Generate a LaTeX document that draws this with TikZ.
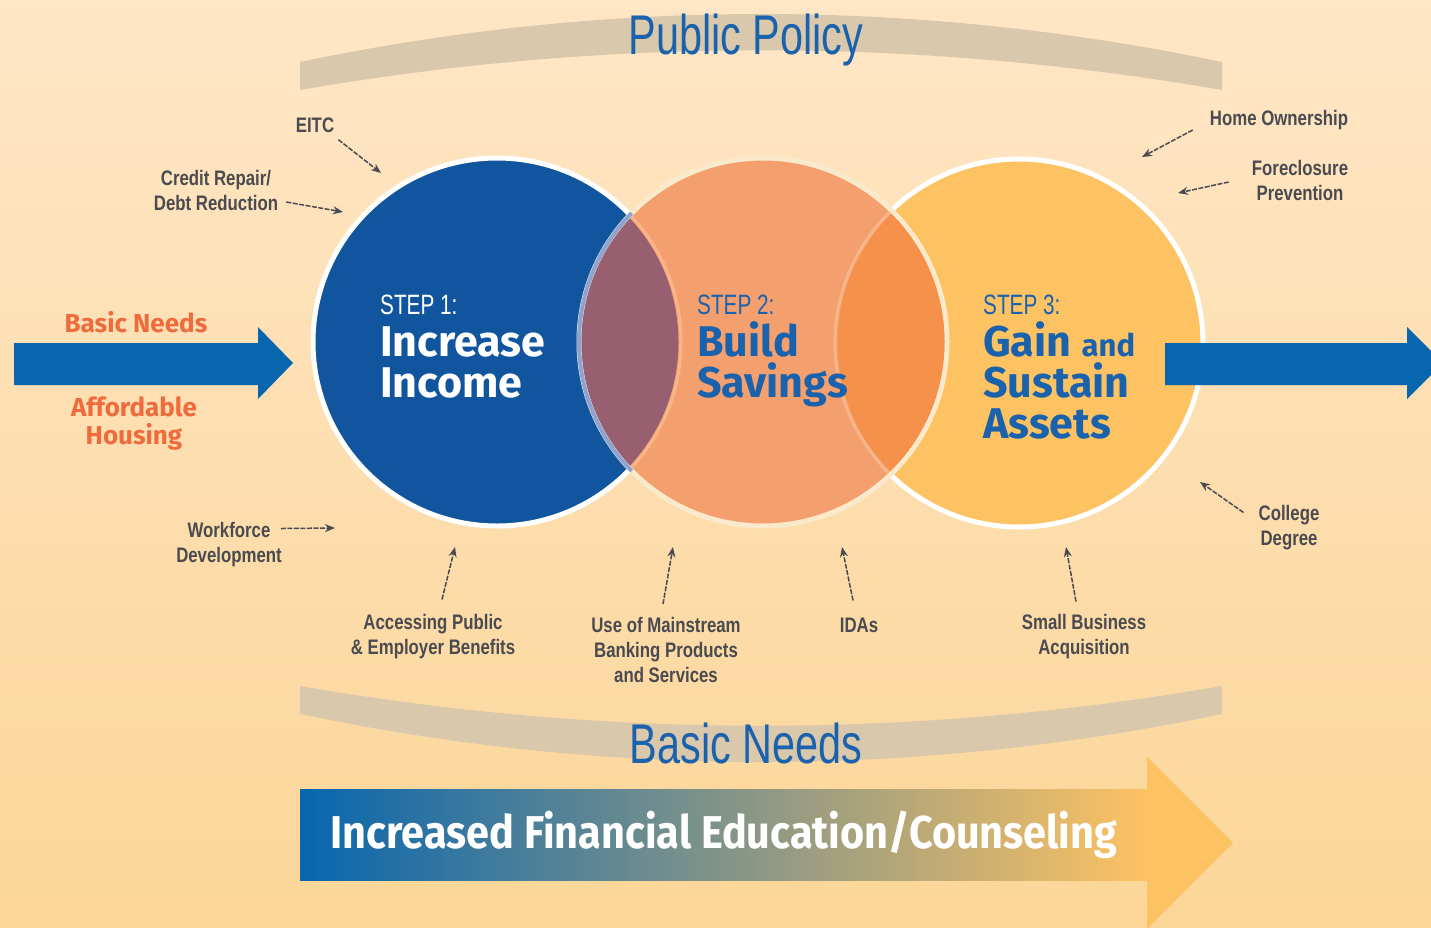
\documentclass[tikz,border=0pt]{standalone}
\usepackage{fontspec}
\setmainfont{Liberation Sans}
\newfontfamily\narrowfont[FakeStretch=0.74]{Liberation Sans}
\newfontfamily\labelfont[FakeStretch=0.80]{Liberation Sans}
\newfontfamily\headfont{Fira Sans}
\newfontfamily\barfont[FakeStretch=0.90]{Fira Sans}
\usetikzlibrary{arrows.meta,positioning}
\definecolor{bgtop}{RGB}{254,230,198}
\definecolor{bgbottom}{RGB}{252,214,152}
\definecolor{bandtan}{RGB}{218,200,172}
\definecolor{titleblue}{RGB}{27,98,173}
\definecolor{incomeblue}{RGB}{17,85,159}
\definecolor{savingsorange}{RGB}{244,160,110}
\definecolor{assetsyellow}{RGB}{253,194,98}
\definecolor{lensmauve}{RGB}{152,95,112}
\definecolor{lensorange}{RGB}{245,145,74}
\definecolor{rimblue}{RGB}{141,163,211}
\definecolor{rimorange}{RGB}{248,181,138}
\definecolor{rimcream}{RGB}{250,233,203}
\definecolor{needorange}{RGB}{239,107,59}
\definecolor{labelgray}{RGB}{74,75,80}
\definecolor{arrowblue}{RGB}{8,102,174}
\definecolor{bargray}{RGB}{135,135,152}

\begin{document}
\begin{tikzpicture}[x=1pt,y=-1pt]
\tikzstyle{stepcircle}=[circle,minimum size=368pt,inner sep=0pt,line width=5pt]
\tikzstyle{bigtitle}=[font={\narrowfont\fontsize{56}{60}\selectfont},text=titleblue,inner sep=0pt,anchor=base]
\tikzstyle{steptag}=[font={\narrowfont\fontsize{28}{30}\selectfont},inner sep=0pt,anchor=base west]
\tikzstyle{stepname}=[font={\headfont\bfseries\fontsize{43}{43}\selectfont},inner sep=0pt,anchor=base west]
\tikzstyle{needlabel}=[font={\headfont\bfseries\fontsize{26}{28}\selectfont},text=needorange,align=center,inner sep=1pt]
\tikzstyle{helplabel}=[font={\labelfont\bfseries\fontsize{21}{25}\selectfont},text=labelgray,align=center,inner sep=1pt]
\tikzstyle{pointer}=[-{Stealth[length=10pt,width=8pt]},line width=1.5pt,draw=labelgray,dash pattern=on 5pt off 1.5pt]

\useasboundingbox (0,0) rectangle (1431,927);
\shade[top color=bgtop,bottom color=bgbottom] (0,0) rectangle (1431,927);

%%%%%%%%%%%%%%%%%%%%%%%%%%%%%%%%%%%%%%%%%%%%%%%%%%%%%%%%%%%%%%%%%%%%%%%%
%BANDS
\fill[bandtan] (300,62) .. controls (607,-2) and (915,-2) .. (1222,62) -- (1222,90) .. controls (915,37) and (607,37) .. (300,90) -- cycle;
\fill[bandtan] (300,686) .. controls (607,739) and (915,739) .. (1222,686) -- (1222,714) .. controls (915,778) and (607,778) .. (300,714) -- cycle;
\node[bigtitle] (policy) at (746,54) {Public Policy};
\node[bigtitle] (needs) at (746,763) {Basic Needs};

%%%%%%%%%%%%%%%%%%%%%%%%%%%%%%%%%%%%%%%%%%%%%%%%%%%%%%%%%%%%%%%%%%%%%%%%
%CIRCLES
\node[stepcircle,fill=incomeblue,draw=white] (step1) at (497,342) {};
\node[stepcircle,fill=assetsyellow,draw=white] (step3) at (1019,343) {};
\node[stepcircle,fill=savingsorange,draw=rimcream] (step2) at (763,342) {};
%overlaps
\begin{scope}
\clip (step2.center) circle[radius=181.5pt];
\fill[lensmauve] (step1.center) circle[radius=181.5pt];
\fill[lensorange] (step3.center) circle[radius=181.5pt];
\end{scope}
\begin{scope}
\clip (step1.center) circle[radius=186.5pt];
\draw[rimblue,line width=4pt] (step2.center) circle[radius=184pt];
\end{scope}
\begin{scope}
\clip (step2.center) circle[radius=181.5pt];
\draw[rimorange,line width=3pt] (step3.center) circle[radius=184pt];
\draw[rimorange,line width=3pt] (step1.center) circle[radius=184pt];
\end{scope}

%texts
%1
\node[steptag,text=white] (tag1) at (380,314) {STEP 1:};
\node[stepname,text=white] (name1a) at (380,356) {Increase};
\node[stepname,text=white] (name1b) at (380,397) {Income};
%2
\node[steptag,text=titleblue] (tag2) at (697,314) {STEP 2:};
\node[stepname,text=titleblue] (name2a) at (697,356) {Build};
\node[stepname,text=titleblue] (name2b) at (697,397) {Savings};
%3
\node[steptag,text=titleblue] (tag3) at (983,314) {STEP 3:};
\node[stepname,text=titleblue] (name3a) at (983,356) {Gain {\fontsize{31}{31}\selectfont and}};
\node[stepname,text=titleblue] (name3b) at (983,397) {Sustain};
\node[stepname,text=titleblue] (name3c) at (983,438) {Assets};

%%%%%%%%%%%%%%%%%%%%%%%%%%%%%%%%%%%%%%%%%%%%%%%%%%%%%%%%%%%%%%%%%%%%%%%%
%BIG ARROWS
\fill[arrowblue] (14,343) -- (258,343) -- (258,327) -- (293,363) -- (258,399) -- (258,385) -- (14,385) -- cycle;
\fill[arrowblue] (1165,343) -- (1407,343) -- (1407,327) -- (1443,363) -- (1407,399) -- (1407,385) -- (1165,385) -- cycle;
\node[needlabel] (basic) at (136,322) {Basic Needs};
\node[needlabel] (housing) at (134,424) {Affordable\\Housing};

%bottom bar
\shade[left color=arrowblue,middle color=bargray,right color=assetsyellow] (300,789) rectangle (1148,880);
\fill[assetsyellow] (1147,757) -- (1233,843) -- (1147,929) -- cycle;
\node[font={\barfont\bfseries\fontsize{46}{46}\selectfont},text=white,inner sep=0pt,anchor=base] (education) at (724,848) {Increased Financial Education/Counseling};

%%%%%%%%%%%%%%%%%%%%%%%%%%%%%%%%%%%%%%%%%%%%%%%%%%%%%%%%%%%%%%%%%%%%%%%%
%LABELS
\node[helplabel] (eitc) at (315,125) {EITC};
\node[helplabel] (creditrepair) at (216,190) {Credit Repair/\\Debt Reduction};
\node[helplabel] (workforce) at (229,545) {Workforce\\Development};
\node[helplabel] (accessing) at (433,637) {Accessing Public\\\& Employer Benefits};
\node[helplabel] (mainstream) at (666,650) {Use of Mainstream\\Banking Products\\and Services};
\node[helplabel] (idas) at (859,625) {IDAs};
\node[helplabel] (smallbiz) at (1084,637) {Small Business\\Acquisition};
\node[helplabel] (college) at (1289,528) {College\\Degree};
\node[helplabel] (homeowner) at (1279,120) {Home Ownership};
\node[helplabel] (foreclosure) at (1300,180) {Foreclosure\\Prevention};

\coordinate (eitctip) at (381,173);
\coordinate (credittip) at (343,212);
\coordinate (workforcetip) at (335,528);
\coordinate (accessingtip) at (455,547);
\coordinate (mainstreamtip) at (673,547);
\coordinate (idastip) at (842,547);
\coordinate (smallbiztip) at (1066,547);
\coordinate (collegetip) at (1200,482);
\coordinate (homeownertip) at (1142,157);
\coordinate (foreclosuretip) at (1178,193);

%ARROWS
\draw[pointer] ([xshift=3pt,yshift=-6pt]eitc.south east) -- (eitctip);
\draw[pointer] ([xshift=7pt,yshift=-12pt]creditrepair.east) -- (credittip);
\draw[pointer] ([xshift=-2pt,yshift=-7pt]workforce.north east) -- (workforcetip);
\draw[pointer] ([xshift=9pt,yshift=14pt]accessing.north) -- (accessingtip);
\draw[pointer] ([xshift=-3pt,yshift=12pt]mainstream.north) -- (mainstreamtip);
\draw[pointer] ([xshift=-6pt,yshift=16pt]idas.north) -- (idastip);
\draw[pointer] ([xshift=-8pt,yshift=12pt]smallbiz.north) -- (smallbiztip);
\draw[pointer] ([xshift=-14pt,yshift=-8pt]college.north west) -- (collegetip);
\draw[pointer] ([xshift=-16pt,yshift=-10pt]homeowner.west) -- (homeownertip);
\draw[pointer] ([xshift=-22pt,yshift=-2pt]foreclosure.west) -- (foreclosuretip);
\end{tikzpicture}
\end{document}
